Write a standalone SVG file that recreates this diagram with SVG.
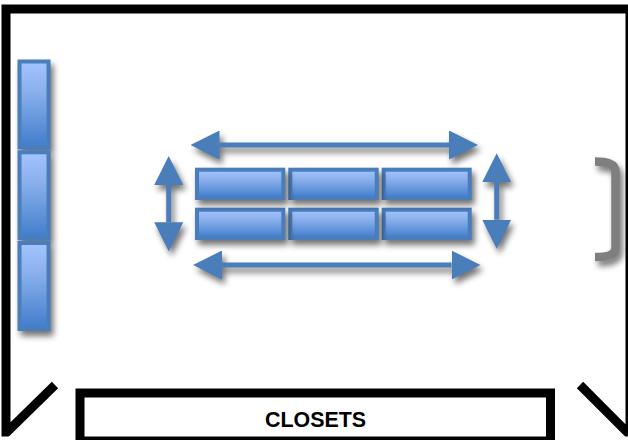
<svg xmlns="http://www.w3.org/2000/svg" width="628" height="440" viewBox="0 0 628 440">
<style>
.wall{fill:none;stroke:#000;stroke-width:9;stroke-linejoin:miter;stroke-miterlimit:10}
.bar{fill:url(#barFill);stroke:#4a7ebb;stroke-width:4;filter:url(#shadow)}
.arrow{fill:none;stroke:#4a7ebb;stroke-width:5;marker-start:url(#head);marker-end:url(#head);filter:url(#shadow)}
.label{font-family:"Liberation Sans",Arial,sans-serif;font-weight:700;font-size:21.4px;fill:#000;text-anchor:middle}
</style>
<defs>
<linearGradient id="barFill" x1="0" y1="0" x2="0" y2="1">
<stop offset="0" stop-color="#a3c4ff"/>
<stop offset="0.35" stop-color="#8ab0ec"/>
<stop offset="1" stop-color="#3f7dcb"/>
</linearGradient>
<clipPath id="wallClip"><rect x="0" y="0" width="628" height="436.500"/></clipPath>
<filter id="shadow" filterUnits="userSpaceOnUse" x="0" y="0" width="628" height="440" color-interpolation-filters="sRGB">
<feGaussianBlur in="SourceAlpha" stdDeviation="3"/>
<feOffset dx="2.5" dy="4.500"/>
<feComponentTransfer><feFuncA type="linear" slope="0.55"/></feComponentTransfer>
<feMerge><feMergeNode/><feMergeNode in="SourceGraphic"/></feMerge>
</filter>
<marker id="head" markerUnits="userSpaceOnUse" markerWidth="29" markerHeight="29" refX="0" refY="14.500" orient="auto-start-reverse" viewBox="0 0 29 29">
<path d="M0,0 L29,14.500 L0,29 Z" fill="#4a7ebb"/>
</marker>
</defs>
<rect width="628" height="440" fill="#fff"/>
<g id="room">
<path class="wall" clip-path="url(#wallClip)" d="M55,385 L6,433 L6,9 L630,9 L630,435 L580,385"/>
</g>
<g id="closets">
<rect class="wall" x="80" y="393" width="470.500" height="48"/>
<text class="label" x="315.500" y="426.500">CLOSETS</text>
</g>
<g id="bar-left-1"><rect class="bar" x="19.500" y="61.500" width="29" height="86"/></g>
<g id="bar-left-2"><rect class="bar" x="19.500" y="152.300" width="29" height="86"/></g>
<g id="bar-left-3"><rect class="bar" x="19.500" y="243" width="29" height="86"/></g>
<g id="bar-row2-3"><rect class="bar" x="383.700" y="209.700" width="86" height="28.300"/></g>
<g id="bar-row2-2"><rect class="bar" x="290.300" y="209.700" width="86.400" height="28.300"/></g>
<g id="bar-row2-1"><rect class="bar" x="197" y="209.700" width="86.300" height="28.300"/></g>
<g id="bar-row1-3"><rect class="bar" x="383.700" y="169.700" width="86" height="28.300"/></g>
<g id="bar-row1-2"><rect class="bar" x="290.300" y="169.700" width="86.400" height="28.300"/></g>
<g id="bar-row1-1"><rect class="bar" x="197" y="169.700" width="86.300" height="28.300"/></g>
<g id="bracket">
<path d="M595,161.500 C606,161.500 615.500,163 615.500,172 L615.500,247 C615.500,256 606,257 595,257" fill="none" stroke="#7f7f7f" stroke-width="8.500" filter="url(#shadow)"/>
</g>
<g id="connectors">
<line class="arrow" x1="219.500" y1="145" x2="449" y2="145"/>
<line class="arrow" x1="222" y1="265" x2="451.500" y2="265"/>
<line class="arrow" x1="168.700" y1="185" x2="168.700" y2="222.300"/>
<line class="arrow" x1="496.700" y1="182.300" x2="496.700" y2="219.700"/>
</g>
</svg>
